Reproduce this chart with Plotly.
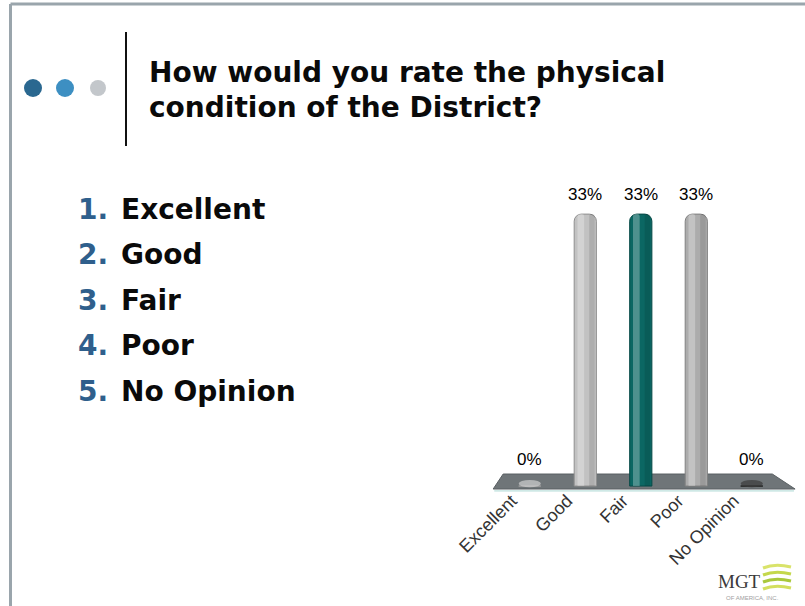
import plotly.graph_objects as go

# Survey results
categories = ["Excellent", "Good", "Fair", "Poor", "No Opinion"]
percents = [0, 33, 33, 33, 0]
bar_colors = ["#cfcfcf", "#c2c2c2", "#0b6763", "#acacac", "#3a3a3a"]
edge_colors = ["#a0a0a0", "#8f8f8f", "#074a47", "#808080", "#222222"]

title_lines = ["How would you rate the physical", "condition of the District?"]
options = ["Excellent", "Good", "Fair", "Poor", "No Opinion"]

idx = list(range(len(categories)))

fig = go.Figure()

# cylinder body
fig.add_trace(go.Bar(
    x=idx, y=percents, width=0.4,
    marker=dict(color=bar_colors, line=dict(color=edge_colors, width=1),
                cornerradius="32%"),
    hoverinfo="skip", showlegend=False,
))
# highlight strip on the left of each cylinder
fig.add_trace(go.Bar(
    x=idx, y=percents, width=0.12, offset=-0.14,
    marker=dict(color="rgba(255,255,255,0.28)", line=dict(width=0),
                cornerradius="32%"),
    hoverinfo="skip", showlegend=False,
))
# darker strip on the right side
fig.add_trace(go.Bar(
    x=idx, y=percents, width=0.1, offset=0.07,
    marker=dict(color="rgba(0,0,0,0.10)", line=dict(width=0),
                cornerradius="32%"),
    hoverinfo="skip", showlegend=False,
))

# percentage labels above each cylinder; empty ones sit at the back of the floor
annotations = []
for i, v in zip(idx, percents):
    annotations.append(dict(
        x=i, y=v, xref="x", yref="y", text=f"{v}%", showarrow=False,
        yanchor="bottom", yshift=8 if v > 0 else 15,
        font=dict(family="Arial", size=17, color="#000000"),
    ))

shapes = []
# floor of the chart
shapes.append(dict(
    type="path", xref="x", yref="y", layer="below",
    path="M -0.48,1.46 L 4.37,1.46 L 4.78,-0.36 L -0.66,-0.36 Z",
    fillcolor="#6f7578", line=dict(color="#5a6063", width=1),
))
shapes.append(dict(
    type="line", xref="x", yref="y", layer="below",
    x0=-0.64, x1=4.76, y0=-0.6, y1=-0.6,
    line=dict(color="#cfe9e6", width=2),
))
# flat discs for empty categories
for i, v in zip(idx, percents):
    if v == 0:
        shapes.append(dict(
            type="circle", xref="x", yref="y", layer="above",
            x0=i - 0.2, x1=i + 0.2, y0=-0.15, y1=0.75,
            fillcolor=bar_colors[i], line=dict(width=0), opacity=0.7,
        ))

# slide frame
shapes.append(dict(type="line", xref="paper", yref="paper",
                   x0=10.5 / 805, x1=1, y0=1 - 4 / 606, y1=1 - 4 / 606,
                   line=dict(color="#9aa5ac", width=3)))
shapes.append(dict(type="line", xref="paper", yref="paper",
                   x0=10.5 / 805, x1=10.5 / 805, y0=0, y1=1 - 4 / 606,
                   line=dict(color="#9aa5ac", width=3)))

# title bullets and divider
for cx, r, col in [(33, 9, "#2a6890"), (65, 9, "#3d8fc2"), (98, 8, "#c3c7cb")]:
    shapes.append(dict(type="circle", xref="paper", yref="paper",
                       x0=(cx - r) / 805, x1=(cx + r) / 805,
                       y0=1 - (88 + r) / 606, y1=1 - (88 - r) / 606,
                       fillcolor=col, line=dict(width=0)))
shapes.append(dict(type="line", xref="paper", yref="paper",
                   x0=126 / 805, x1=126 / 805, y0=1 - 32 / 606, y1=1 - 146 / 606,
                   line=dict(color="#111111", width=2)))

# title text
for k, line in enumerate(title_lines):
    annotations.append(dict(
        xref="paper", yref="paper", x=147 / 805, y=1 - (73 + 35 * k) / 606,
        xanchor="left", yanchor="middle", showarrow=False,
        text=f"<b>{line}</b>",
        font=dict(family="DejaVu Sans", size=28, color="#0a0a0a"),
    ))

# numbered options list
for k, opt in enumerate(options):
    yc = 1 - (209 + 45.5 * k) / 606
    annotations.append(dict(
        xref="paper", yref="paper", x=76 / 805, y=yc,
        xanchor="left", yanchor="middle", showarrow=False,
        text=f"<b>{k + 1}.</b>",
        font=dict(family="DejaVu Sans", size=28, color="#2f5f8c"),
    ))
    annotations.append(dict(
        xref="paper", yref="paper", x=119 / 805, y=yc,
        xanchor="left", yanchor="middle", showarrow=False,
        text=f"<b>{opt}</b>",
        font=dict(family="DejaVu Sans", size=28, color="#0a0a0a"),
    ))

# company logo
annotations.append(dict(
    xref="paper", yref="paper", x=739 / 805, y=1 - 581 / 606,
    xanchor="center", yanchor="middle", showarrow=False, text="MGT",
    font=dict(family="Liberation Serif", size=19, color="#3a3a3a"),
))
annotations.append(dict(
    xref="paper", yref="paper", x=752 / 805, y=1 - 598 / 606,
    xanchor="center", yanchor="middle", showarrow=False,
    text="OF AMERICA, INC.",
    font=dict(family="Arial", size=6, color="#a0a0a0"),
))
for k, col in enumerate(["#d9e36a", "#c4d84c", "#a9c83c", "#d3df5e"]):
    y0 = 568 + 7 * k
    path = (f"M {763 / 805},{1 - y0 / 606} "
            f"Q {775 / 805},{1 - (y0 - 5) / 606} {791 / 805},{1 - (y0 - 1) / 606}")
    shapes.append(dict(type="path", xref="paper", yref="paper", path=path,
                       line=dict(color=col, width=3)))

fig.update_layout(
    width=805, height=606,
    margin=dict(l=0, r=0, t=0, b=0, autoexpand=False),
    paper_bgcolor="white", plot_bgcolor="rgba(0,0,0,0)",
    barmode="overlay",
    showlegend=False,
    xaxis=dict(
        domain=[0.6064, 0.9925], range=[-0.75, 4.85],
        tickmode="array", tickvals=idx, ticktext=categories,
        tickangle=-45, tickfont=dict(family="Arial", size=18, color="#333333"),
        ticklabelshift=-18, ticklabelstandoff=-6, automargin=False,
        showgrid=False, zeroline=False, showline=False, ticks="",
    ),
    yaxis=dict(
        domain=[0.1884, 0.7419], range=[-0.7, 40], automargin=False,
        showgrid=False, zeroline=False, showline=False, showticklabels=False,
    ),
    shapes=shapes,
    annotations=annotations,
)

fig.write_html("out.html")
